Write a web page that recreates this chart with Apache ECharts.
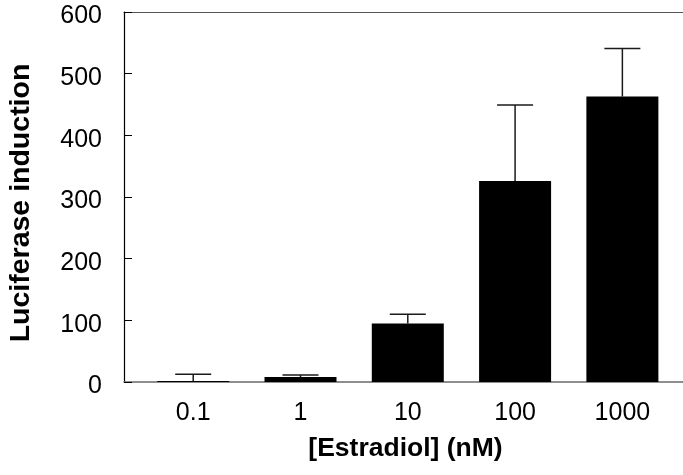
<!DOCTYPE html>
<html>
<head>
<meta charset="utf-8">
<script src="https://cdn.jsdelivr.net/npm/echarts@6/dist/echarts.min.js"></script>
<style>html,body{margin:0;padding:0;background:#fff;}#c{width:683px;height:475px;}</style>
</head>
<body>
<div id="c"></div>
<script>
var categories = ['0.1', '1', '10', '100', '1000'];
var means = [1.5, 8, 95, 326, 463];
var errTops = [12.5, 11.5, 110, 449, 541];
var yTicks = [0, 100, 200, 300, 400, 500, 600];

var chart = echarts.init(document.getElementById('c'));
var barData = means.map(function (v, i) { return [i, v]; });
var errData = means.map(function (v, i) { return [i, v, errTops[i]]; });
var FONT = '"Liberation Sans", Arial, sans-serif';

chart.setOption({
  animation: false,
  grid: { left: 124, right: 0, top: 12, bottom: 93, containLabel: false, outerBoundsMode: 'none' },
  xAxis: [{
    type: 'value', min: -0.645, max: 4.565,
    splitLine: { show: false },
    axisLine: { show: true, onZero: false, lineStyle: { color: '#6a6a6a', width: 1.5 } },
    axisTick: { show: false },
    axisLabel: {
      customValues: [0, 1, 2, 3, 4],
      formatter: function (v) { return categories[Math.round(v)]; },
      fontFamily: FONT, fontSize: 25, color: '#000', margin: 19
    },
    name: '[Estradiol] (nM)', nameLocation: 'middle', nameGap: 53,
    nameTextStyle: { fontFamily: FONT, fontSize: 26.5, fontWeight: 'bold', color: '#000', padding: [0, 0, 0, 4] }
  }, {
    type: 'value', position: 'top', min: -0.645, max: 4.565,
    splitLine: { show: false },
    axisLine: { show: true, onZero: false, lineStyle: { color: '#555', width: 1.2 } },
    axisTick: { show: false }, axisLabel: { show: false }
  }],
  yAxis: {
    type: 'value', min: 0, max: 600, interval: 100,
    splitLine: { show: false },
    axisLine: { show: true, onZero: false, lineStyle: { color: '#000', width: 1.2 } },
    axisTick: { show: true, inside: true, length: 8, lineStyle: { color: '#000', width: 1 } },
    axisLabel: {
      customValues: yTicks,
      formatter: function (v) { return '{a|' + v + '}'; },
      rich: { a: { fontFamily: FONT, fontSize: 25, color: '#000', lineHeight: 25, padding: [9, 0, 0, 0] } },
      margin: 22
    },
    name: 'Luciferase induction', nameLocation: 'middle', nameGap: 88, nameRotate: 90,
    nameTextStyle: { fontFamily: FONT, fontSize: 28.5, fontWeight: 'bold', color: '#000', padding: [0, 12, 0, 0] }
  },
  series: [{
    type: 'custom',
    z: 1,
    data: errData,
    renderItem: function (params, api) {
      var base = api.coord([api.value(0), api.value(1)]);
      var top = api.coord([api.value(0), api.value(2)]);
      var cap = 18;
      var st = { stroke: '#1a1a1a', lineWidth: 1.5 };
      return {
        type: 'group',
        children: [
          { type: 'line', shape: { x1: base[0], y1: base[1], x2: top[0], y2: top[1] }, style: st },
          { type: 'line', shape: { x1: top[0] - cap, y1: top[1], x2: top[0] + cap, y2: top[1] }, style: st }
        ]
      };
    }
  }, {
    type: 'bar',
    z: 2,
    data: barData,
    barWidth: 72,
    itemStyle: { color: '#000' }
  }]
});
</script>
</body>
</html>
